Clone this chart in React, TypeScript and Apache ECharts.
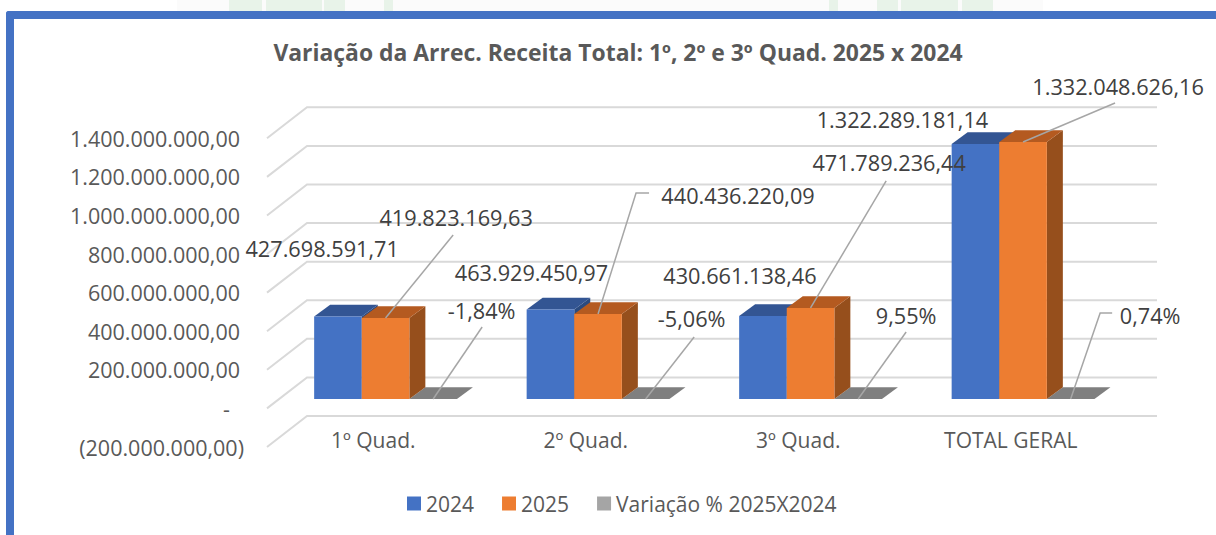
import React, { useEffect, useRef } from "react";
import * as echarts from "echarts";

const categories = ["1º Quad.", "2º Quad.", "3º Quad.", "TOTAL GERAL"];
const values2024 = [427698591.71, 463929450.97, 430661138.46, 1322289181.14];
const values2025 = [419823169.63, 440436220.09, 471789236.44, 1332048626.16];
const valuesVar = [-0.0184, -0.0506, 0.0955, 0.0074];
const yTicks = [-200000000, 0, 200000000, 400000000, 600000000, 800000000, 1000000000, 1200000000, 1400000000];
const titleText = "Variação da Arrec. Receita Total: 1º, 2º e 3º Quad. 2025 x 2024";
const names = ["2024", "2025", "Variação % 2025X2024"];

const FONT = '"Open Sans", sans-serif';
const GRID = { left: 267, top: 138.3, width: 850, height: 308.7 };
const WALL = { dx: 40, dy: 31 };
const BAR = { shiftX: 12.3, shiftY: 9.4, width: 47.6, dx: 16, dy: 11.7 };
const PALETTE = [
  { front: "#4472C4", top: "#335593", side: "#2A4A80" },
  { front: "#ED7D31", top: "#B45A20", side: "#964F1C" },
  { front: "#A5A5A5", top: "#7F7F7F", side: "#7F7F7F" },
];
const STRIP_FAINT = [[177, 866]];
const STRIP_GREEN = [[229, 33], [266, 56], [324, 21], [384, 9], [829, 9], [877, 21], [901, 57], [962, 31]];

// Pixel offsets of labels and leader lines from each bar's top-front centre
const labelLayout2024 = [[-15.8, -67.5], [-19, -37.5], [-23, -40], [-73, -24]];
const labelLayout2025 = [[70.6, -101], [140, -119], [78.6, -145], [95, -56]];
const labelLayoutVar = [[48.5, -89], [46, -81], [48, -84], [79.5, -84]];
const leaderLayout2025 = [[[67.6, -83]], [[38, -121], [51, -121]], [[75.6, -127]], [[92, -39]]];
const leaderLayoutVar = [[[49, -72]], [[48.5, -62]], [[48, -67]], [[29.5, -86], [41.5, -86]]];

function formatBR(v: number) {
  const neg = v < 0;
  const [i, d] = Math.abs(v).toFixed(2).split(".");
  const s = i.replace(/\B(?=(\d{3})+(?!\d))/g, ".") + "," + d;
  return neg ? "(" + s + ")" : s;
}
function formatPct(v: number) {
  return (v * 100).toFixed(2).replace(".", ",") + "%";
}
function formatAxis(v: number) {
  if (v === 0) return "{zero|-}";
  if (v < 0) return "{neg|" + formatBR(v) + "}";
  return "{pos|" + formatBR(v) + "}";
}

function barAnchor(api: any, cat: number, val: number, k: number) {
  const p = api.coord([cat, val]);
  const left = p[0] + BAR.shiftX - (BAR.width * 3) / 2 + BAR.width * k;
  return { left, top: p[1] - BAR.shiftY, centre: left + BAR.width / 2 };
}

function renderBar(k: number) {
  return (_: any, api: any) => {
    const cat = api.value(0);
    const a = barAnchor(api, cat, api.value(1), k);
    const base = barAnchor(api, cat, 0, k).top;
    const w = BAR.width, dx = BAR.dx, dy = BAR.dy;
    const c = PALETTE[k];
    const flat = k === 2;
    const t = flat ? Math.min(a.top, base) : a.top;
    const children: any[] = [];
    if (!flat) {
      children.push({
        type: "polygon",
        shape: { points: [[a.left + w, t], [a.left + w + dx, t - dy], [a.left + w + dx, base - dy], [a.left + w, base]] },
        style: { fill: c.side },
      });
    }
    children.push({
      type: "polygon",
      shape: { points: [[a.left, t], [a.left + dx, t - dy], [a.left + w + dx, t - dy], [a.left + w, t]] },
      style: { fill: c.top },
    });
    if (!flat) {
      children.push({
        type: "rect",
        shape: { x: a.left, y: t, width: w, height: base - t },
        style: { fill: c.front },
      });
    }
    return { type: "group", children };
  };
}

function renderLabels(k: number, layout: number[][], leaders: number[][][] | null, fmt: (v: number) => string) {
  return (_: any, api: any) => {
    const cat = api.value(0);
    const val = api.value(1);
    const a = barAnchor(api, cat, k === 2 ? 0 : val, k);
    const children: any[] = [];
    if (leaders) {
      const pts = [[a.centre, a.top], ...leaders[cat].map((o) => [a.centre + o[0], a.top + o[1]])];
      children.push({
        type: "polyline",
        shape: { points: pts },
        style: { stroke: "#A6A6A6", lineWidth: 1.5, fill: "none" },
      });
    }
    children.push({
      type: "text",
      style: {
        text: fmt(val),
        x: a.centre + layout[cat][0],
        y: a.top + layout[cat][1],
        align: "center",
        verticalAlign: "middle",
        fill: "#404040",
        font: '21.7px ' + FONT,
      },
    });
    return { type: "group", children };
  };
}

function renderWall(params: any, api: any) {
  const cs = params.coordSys;
  const y = api.coord([0, api.value(1)])[1];
  return {
    type: "polyline",
    shape: {
      points: [
        [cs.x, y],
        [cs.x + WALL.dx, y - WALL.dy],
        [cs.x + cs.width + WALL.dx, y - WALL.dy],
      ],
    },
    style: { stroke: "#D9D9D9", lineWidth: 2, fill: "none" },
  };
}

const toData = (arr: number[]) => arr.map((v, i) => [i, v]);

export default function App() {
  const ref = useRef<HTMLDivElement>(null);
  useEffect(() => {
    document.body.style.margin = "0";
    const chart = echarts.init(ref.current!, undefined, { renderer: "svg" });
    const custom = (extra: any) => ({ type: "custom", silent: true, clip: false, ...extra });
    chart.setOption({
      animation: false,
      backgroundColor: "#FFFFFF",
      title: {
        text: titleText,
        left: 613,
        top: 36,
        textAlign: "center",
        textStyle: { fontFamily: FONT, fontSize: 22.9, fontWeight: "bold", color: "#595959" },
      },
      legend: {
        data: names,
        left: 402,
        top: 488,
        icon: "rect",
        itemWidth: 14,
        itemHeight: 14,
        itemGap: 28,
        textStyle: { fontFamily: FONT, fontSize: 21, color: "#595959" },
      },
      graphic: [
        ...STRIP_FAINT.map(([x, width]) => ({ type: "rect", z: -2, shape: { x, y: 0, width, height: 11 }, style: { fill: "#FBFBFB" } })),
        ...STRIP_GREEN.map(([x, width]) => ({ type: "rect", z: -1, shape: { x, y: 0, width, height: 11 }, style: { fill: "#E8F3E9" } })),
        { type: "rect", shape: { x: 6, y: 11, width: 1210, height: 8, r: [3, 0, 0, 0] }, style: { fill: "#4472C4" } },
        { type: "rect", shape: { x: 6, y: 11, width: 8, height: 524, r: [3, 0, 0, 0] }, style: { fill: "#4472C4" } },
      ],
      grid: GRID,
      xAxis: {
        type: "category",
        data: categories,
        axisLine: { show: false },
        axisTick: { show: false },
        axisLabel: { fontFamily: FONT, fontSize: 21, color: "#595959", margin: -18 },
      },
      yAxis: {
        type: "value",
        min: -200000000,
        max: 1400000000,
        interval: 200000000,
        axisLine: { show: false },
        axisTick: { show: false },
        splitLine: { show: false },
        axisLabel: {
          margin: 23,
          fontFamily: FONT,
          fontSize: 21.5,
          color: "#595959",
          formatter: formatAxis,
          rich: {
            pos: { fontFamily: FONT, fontSize: 21.5, color: "#595959", padding: [0, 4, 0, 0] },
            neg: { fontFamily: FONT, fontSize: 21.5, color: "#595959" },
            zero: { fontFamily: FONT, fontSize: 21.5, color: "#595959", padding: [0, 14, 0, 0] },
          },
        },
      },
      series: [
        custom({ name: "grid", z: 1, data: yTicks.map((v) => [0, v]), renderItem: renderWall, encode: { y: 1 } }),
        custom({ name: names[2], z: 2, data: toData(valuesVar), itemStyle: { color: PALETTE[2].front }, renderItem: renderBar(2), encode: { x: 0, y: 1 } }),
        custom({ name: names[0], z: 3, data: toData(values2024), itemStyle: { color: PALETTE[0].front }, renderItem: renderBar(0), encode: { x: 0, y: 1 } }),
        custom({ name: names[1], z: 4, data: toData(values2025), itemStyle: { color: PALETTE[1].front }, renderItem: renderBar(1), encode: { x: 0, y: 1 } }),
        custom({ name: "labels2024", z: 5, data: toData(values2024), renderItem: renderLabels(0, labelLayout2024, null, formatBR), encode: { x: 0, y: 1 } }),
        custom({ name: "labels2025", z: 5, data: toData(values2025), renderItem: renderLabels(1, labelLayout2025, leaderLayout2025, formatBR), encode: { x: 0, y: 1 } }),
        custom({ name: "labelsVar", z: 5, data: toData(valuesVar), renderItem: renderLabels(2, labelLayoutVar, leaderLayoutVar, formatPct), encode: { x: 0, y: 1 } }),
      ],
    });
    return () => chart.dispose();
  }, []);
  return <div ref={ref} style={{ position: "absolute", left: 0, top: 0, width: 1216, height: 535 }} />;
}
